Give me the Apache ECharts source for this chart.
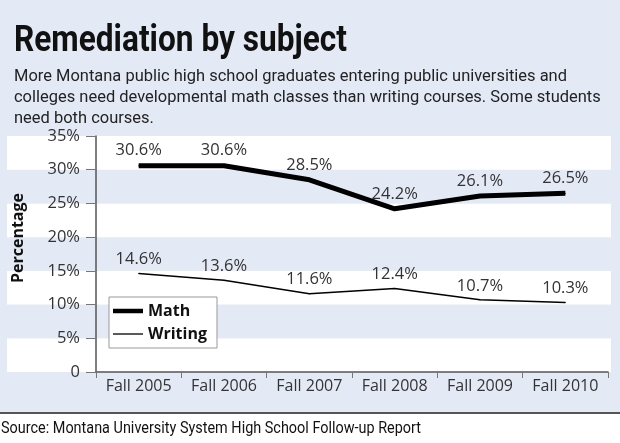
<!DOCTYPE html>
<html>
<head>
<meta charset="utf-8">
<script src="https://cdn.jsdelivr.net/npm/echarts@6/dist/echarts.min.js"></script>
<style>html,body{margin:0;padding:0;background:#e4eaf5;}#c{width:620px;height:443px;}</style>
</head>
<body>
<div id="c"></div>
<script>
const categories = ['Fall 2005', 'Fall 2006', 'Fall 2007', 'Fall 2008', 'Fall 2009', 'Fall 2010'];
const mathValues = [30.6, 30.6, 28.5, 24.2, 26.1, 26.5];
const writingValues = [14.6, 13.6, 11.6, 12.4, 10.7, 10.3];
const yTickValues = [0, 5, 10, 15, 20, 25, 30, 35];
const titleText = 'Remediation by subject';
const subtitleLines = [
  'More Montana public high school graduates entering public universities and',
  'colleges need developmental math classes than writing courses. Some students',
  'need both courses.'
];
const sourceText = 'Source: Montana University System High School Follow-up Report';

const BG = '#e4eaf5';
const chart = echarts.init(document.getElementById('c'), null, {renderer: 'canvas'});
const yMin = yTickValues[0], yMax = yTickValues[yTickValues.length - 1], yStep = yTickValues[1] - yTickValues[0];
const numFont = 'Open Sans';

// condensed look: measure text and squeeze horizontally to the target width
const mctx = document.createElement('canvas').getContext('2d');
function squeeze(text, font, targetWidth) {
  mctx.font = font;
  return targetWidth / mctx.measureText(text).width;
}
const titleFont = 'bold 36px Roboto';
const subFont = '17px Roboto';
const srcFont = '17px Roboto';
const titleScale = squeeze(titleText, titleFont, 333);
const subScale = squeeze(subtitleLines[0], subFont, 553);
const srcScale = squeeze(sourceText, srcFont, 420);

function textEl(text, font, x, y, sx, fill) {
  return {type: 'text', x: x, y: y, scaleX: sx, silent: true, z: 10,
    style: {text: text, x: 0, y: 0, font: font, fill: fill, verticalAlign: 'top', align: 'left'}};
}

const graphics = [
  {type: 'rect', shape: {x: 0, y: 413, width: 620, height: 30}, style: {fill: '#ffffff'}, silent: true},
  {type: 'line', shape: {x1: 0, y1: 413, x2: 620, y2: 413}, style: {stroke: '#555', lineWidth: 2}, silent: true},
  textEl(titleText, titleFont, 14, 24, titleScale, '#111'),
  textEl(sourceText, srcFont, 1, 420, srcScale, '#111')
];
subtitleLines.forEach((line, i) => graphics.push(textEl(line, subFont, 14, 68 + i * 21.2, subScale, '#222')));

chart.setOption({
  backgroundColor: BG,
  animation: false,
  graphic: graphics,
  legend: {
    data: [
      {name: 'Math', icon: 'path://M0,0H30V4.5H0Z'},
      {name: 'Writing', icon: 'path://M0,0H30V1.3H0Z'}
    ],
    orient: 'vertical',
    left: 109, top: 297,
    backgroundColor: '#fff',
    borderColor: '#999', borderWidth: 1,
    padding: [6, 10, 6, 4],
    itemWidth: 30, itemHeight: 14, itemGap: 7,
    textStyle: {fontFamily: numFont, fontWeight: 'bold', fontSize: 16, color: '#111'}
  },
  grid: [
    {left: 7, right: 9, top: 136, bottom: 71},
    {left: 96, right: 12, top: 136, bottom: 71}
  ],
  xAxis: [
    {gridIndex: 0, type: 'value', show: false, min: 0, max: 1},
    {
      gridIndex: 1, type: 'category', data: categories, boundaryGap: true,
      axisLine: {lineStyle: {color: '#555', width: 1.5}},
      axisTick: {show: true, length: 6, interval: 0, lineStyle: {color: '#777'}},
      axisLabel: {fontFamily: numFont, fontSize: 16, color: '#333', margin: 6, interval: 0}
    }
  ],
  yAxis: [
    {
      gridIndex: 0, type: 'value', min: yMin, max: yMax, interval: yStep,
      axisLine: {show: false}, axisTick: {show: false}, axisLabel: {show: false}, splitLine: {show: false},
      splitArea: {show: true, areaStyle: {color: ['#ffffff', BG]}}
    },
    {
      gridIndex: 1, type: 'value', min: yMin, max: yMax, interval: yStep,
      name: 'Percentage', nameLocation: 'middle', nameGap: 70, nameRotate: 90,
      nameTextStyle: {fontFamily: numFont, fontWeight: 'bold', fontSize: 16, color: '#111', padding: [0, 0, 0, 32]},
      axisLine: {show: true, lineStyle: {color: '#555', width: 1.5}},
      axisTick: {show: true, length: 10, lineStyle: {color: '#777'}},
      axisLabel: {fontFamily: numFont, fontSize: 16.5, color: '#333', margin: 16, formatter: v => v === 0 ? '0' : v + '%'},
      splitLine: {show: false}
    }
  ],
  series: [
    {
      name: 'Math', type: 'line', xAxisIndex: 1, yAxisIndex: 1, data: mathValues,
      symbol: 'circle', symbolSize: 1, showSymbol: true,
      lineStyle: {color: '#000', width: 5},
      itemStyle: {color: '#000'},
      label: {show: true, position: 'top', distance: 6, formatter: p => p.value.toFixed(1) + '%', fontFamily: numFont, fontSize: 16.5, color: '#333'}
    },
    {
      name: 'Writing', type: 'line', xAxisIndex: 1, yAxisIndex: 1, data: writingValues,
      symbol: 'circle', symbolSize: 1, showSymbol: true,
      lineStyle: {color: '#000', width: 1.5},
      itemStyle: {color: '#000'},
      label: {show: true, position: 'top', distance: 5, formatter: p => p.value.toFixed(1) + '%', fontFamily: numFont, fontSize: 16.5, color: '#333'}
    }
  ]
});
</script>
</body>
</html>
